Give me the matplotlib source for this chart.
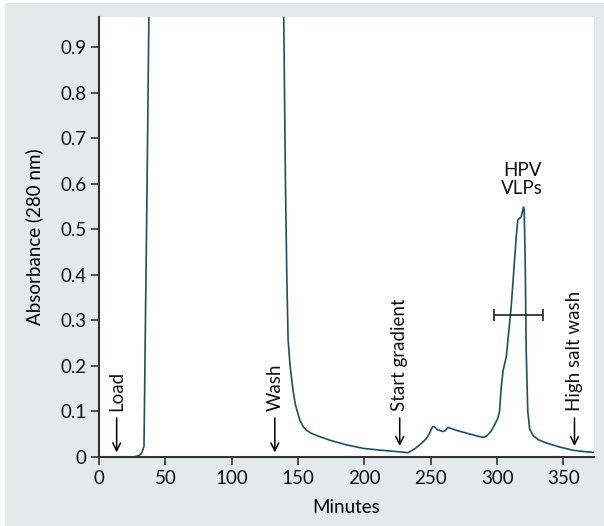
import matplotlib
matplotlib.use('Agg')
import matplotlib.pyplot as plt
from matplotlib.patches import Rectangle

plt.rcParams['font.family'] = ['Lato', 'DejaVu Sans']

# chromatogram trace (minutes, absorbance); values above the axis are off scale
minutes = [0, 20, 25.8, 30, 32.1, 33.9, 35, 36.1, 37.6, 38.5, 138.5, 139.2, 140.5, 141.5, 142.5,
           144, 146.2, 148, 151.3, 154, 156.3, 160, 166, 173.9, 186, 199, 212, 224, 232.8, 238,
           243, 246.5, 249.1, 250.5, 251.6, 253, 255, 259.2, 261, 263, 265, 270, 280, 289.3, 292,
           295, 298, 300.5, 301.8, 303, 304.5, 306.9, 310.6, 314.4, 315.6, 317, 318.1, 319.9,
           320.4, 321.2, 321.9, 323.1, 324.5, 326.9, 331, 337, 347, 357, 365, 373]
absorbance = [0, 0, 0, 0.003, 0.008, 0.023, 0.3, 0.565, 0.97, 1.5, 1.5, 0.97, 0.6, 0.4, 0.257,
              0.2, 0.147, 0.115, 0.081, 0.066, 0.059, 0.052, 0.045, 0.037, 0.027, 0.019, 0.015,
              0.012, 0.0095, 0.018, 0.03, 0.04, 0.052, 0.062, 0.067, 0.066, 0.06, 0.056, 0.058,
              0.065, 0.063, 0.058, 0.05, 0.043, 0.046, 0.055, 0.070, 0.085, 0.1, 0.15, 0.19, 0.22,
              0.33, 0.484, 0.521, 0.525, 0.528, 0.549, 0.543, 0.42, 0.235, 0.1, 0.062, 0.048,
              0.038, 0.031, 0.022, 0.015, 0.012, 0.01]

# event markers: label, minute
events = ['Load', 'Wash', 'Start gradient', 'High salt wash']
event_x = [13.3, 132.5, 226.6, 358.3]
event_tip = [0.004, 0.004, 0.018, 0.018]

# HPV VLP fraction
vlp_center = 315.9
vlp_halfwidth = 18.5
vlp_y = 0.312

fig = plt.figure(figsize=(6.04, 5.26), dpi=100)
fig.patch.set_facecolor('white')
fig.patches.append(Rectangle((5 / 604, 0), 1, 1 - 3 / 526, transform=fig.transFigure,
                             facecolor='#e4e9ec', edgecolor='none', zorder=-10))
ax = fig.add_axes([99 / 604, 1 - 457 / 526, 495 / 604, 440 / 526])
ax.set_facecolor('white')

ax.plot(minutes, absorbance, color='#1f5062', lw=1.2, clip_on=True)

for name, x, tip in zip(events, event_x, event_tip):
    ax.annotate('', xy=(x, tip), xytext=(x, 0.092),
                arrowprops=dict(arrowstyle='->', color='black', lw=1.1, mutation_scale=14))
    ax.text(x, 0.1, name, rotation=90, ha='center', va='bottom', fontsize=13.5, color='#111111')

ax.errorbar([vlp_center], [vlp_y], xerr=[vlp_halfwidth], fmt='none', ecolor='#222222',
            elinewidth=1.2, capsize=4, capthick=1.2)
ax.text(318.9, 0.61, 'HPV\nVLPs', ha='center', va='center', fontsize=13.5, linespacing=1.1,
        color='#111111')

ax.set_xlim(0, 373)
ax.set_ylim(0, 0.967)
ax.set_xticks([0, 50, 100, 150, 200, 250, 300, 350])
ax.set_yticks([0, 0.1, 0.2, 0.3, 0.4, 0.5, 0.6, 0.7, 0.8, 0.9])
ax.set_yticklabels(['0', '0.1', '0.2', '0.3', '0.4', '0.5', '0.6', '0.7', '0.8', '0.9'])
ax.tick_params(direction='out', length=6, width=1.2, color='#333333', labelsize=13.5,
               labelcolor='#111111', pad=3)
for side in ['top', 'right']:
    ax.spines[side].set_visible(False)
for side in ['left', 'bottom']:
    ax.spines[side].set_color('#333333')
    ax.spines[side].set_linewidth(1.5)

ax.set_xlabel('Minutes', fontsize=13.5, labelpad=9)
ax.set_ylabel('Absorbance (280 nm)', fontsize=13.5, labelpad=12)

fig.savefig('out.png', dpi=100, facecolor=fig.get_facecolor())
